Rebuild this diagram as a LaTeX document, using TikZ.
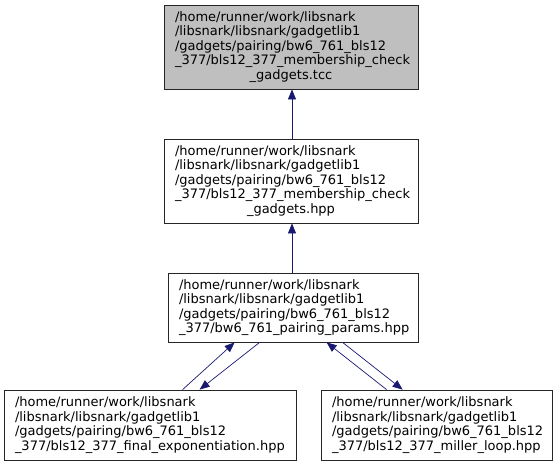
\documentclass[tikz,border=0pt]{standalone}
\usepackage{fontspec}
\setmainfont{DejaVu Sans}
\usetikzlibrary{arrows.meta}
\definecolor{edgeblue}{HTML}{191970}
\definecolor{hlgray}{HTML}{BFBFBF}
\hfuzz=20pt
\begin{document}
\begin{tikzpicture}[x=1pt,y=-1pt,
  filebox/.style={draw=black!85, line width=0.8pt, inner xsep=11pt, inner ysep=0pt,
    font=\fontsize{13}{14.5}\selectfont, anchor=center},
  dep/.style={draw=edgeblue, line width=0.7pt, -{Triangle[length=10pt,width=8pt]}, color=edgeblue}]
\useasboundingbox (0,0) rectangle (557,467);
\node[filebox, fill=hlgray, text width=232pt, minimum height=84pt] (A) at (291,47)
 {\raggedright\hyphenpenalty=10000 /home/runner/work/libsnark\\/libsnark/libsnark/gadgetlib1\\/gadgets/pairing/bw6\_761\_bls12\\\_377/bls12\_377\_membership\_check\par\centering\_gadgets.tcc\par};
\node[filebox, text width=232pt, minimum height=84pt] (B) at (291,181)
 {\raggedright\hyphenpenalty=10000 /home/runner/work/libsnark\\/libsnark/libsnark/gadgetlib1\\/gadgets/pairing/bw6\_761\_bls12\\\_377/bls12\_377\_membership\_check\par\centering\_gadgets.hpp\par};
\node[filebox, text width=228pt, minimum height=69pt] (C) at (293,307.5)
 {\raggedright\hyphenpenalty=10000 /home/runner/work/libsnark\\/libsnark/libsnark/gadgetlib1\\/gadgets/pairing/bw6\_761\_bls12\\\_377/bw6\_761\_pairing\_params.hpp\par};
\node[filebox, text width=270pt, minimum height=70pt] (BL) at (150,425)
 {\raggedright\hyphenpenalty=10000 /home/runner/work/libsnark\\/libsnark/libsnark/gadgetlib1\\/gadgets/pairing/bw6\_761\_bls12\\\_377/bls12\_377\_final\_exponentiation.hpp\par};
\node[filebox, text width=209pt, minimum height=70pt] (BR) at (436.5,425)
 {\raggedright\hyphenpenalty=10000 /home/runner/work/libsnark\\/libsnark/libsnark/gadgetlib1\\/gadgets/pairing/bw6\_761\_bls12\\\_377/bls12\_377\_miller\_loop.hpp\par};
\draw[dep] ([xshift=1pt]B.north) -- ([xshift=1pt]A.south);
\draw[dep] ([xshift=-1pt]C.north) -- ([xshift=1pt]B.south);
\draw[dep] ([xshift=179pt]BL.north west) -- ([xshift=67pt]C.south west);
\draw[dep] ([xshift=92pt]C.south west) -- ([xshift=196pt]BL.north west);
\draw[dep] ([xshift=66pt]BR.north west) -- ([xshift=159pt]C.south west);
\draw[dep] ([xshift=175pt]C.south west) -- ([xshift=82pt]BR.north west);
\end{tikzpicture}
\end{document}
